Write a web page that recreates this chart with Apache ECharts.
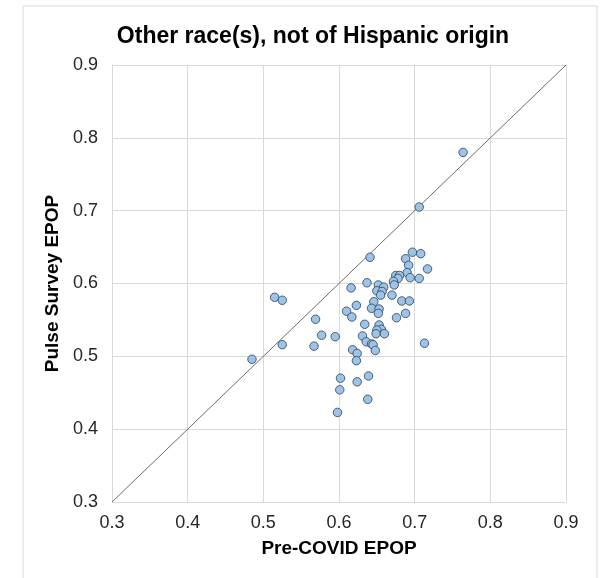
<!DOCTYPE html>
<html>
<head>
<meta charset="utf-8">
<script src="https://cdn.jsdelivr.net/npm/echarts@6/dist/echarts.min.js"></script>
<style>html,body{margin:0;padding:0;background:#fff;}#c{width:603px;height:578px;}</style>
</head>
<body>
<div id="c"></div>
<script>
const titleText = 'Other race(s), not of Hispanic origin';
const xAxisName = 'Pre-COVID EPOP';
const yAxisName = 'Pulse Survey EPOP';
const axisMin = 0.3, axisMax = 0.9, axisStep = 0.1;
const diagLine = [0.3, 0.9];
const preCovid = [0.764,0.706,0.641,0.697,0.708,0.688,0.692,0.717,0.690,0.675,0.680,0.678,0.694,0.706,0.672,0.673,0.637,0.616,0.652,0.659,0.650,0.657,0.655,0.670,0.515,0.525,0.646,0.683,0.693,0.623,0.643,0.653,0.610,0.652,0.688,0.617,0.676,0.569,0.634,0.653,0.656,0.650,0.649,0.660,0.577,0.595,0.631,0.636,0.643,0.645,0.713,0.525,0.567,0.618,0.648,0.624,0.623,0.485,0.602,0.639,0.624,0.601,0.638,0.598];
const pulse = [0.780,0.705,0.636,0.643,0.641,0.634,0.625,0.620,0.615,0.611,0.611,0.607,0.608,0.607,0.603,0.598,0.601,0.594,0.598,0.595,0.590,0.589,0.584,0.584,0.581,0.577,0.575,0.576,0.576,0.570,0.566,0.565,0.562,0.559,0.559,0.554,0.553,0.551,0.544,0.543,0.537,0.536,0.531,0.531,0.529,0.527,0.528,0.520,0.517,0.516,0.518,0.516,0.514,0.509,0.508,0.504,0.494,0.496,0.470,0.473,0.465,0.454,0.441,0.423];

const pts = preCovid.map((x, i) => [x, pulse[i]]);
const fontFam = '"Liberation Sans", Arial, sans-serif';
const chart = echarts.init(document.getElementById('c'), null, {renderer: 'canvas'});
const axisCommon = {
  type: 'value', min: axisMin, max: axisMax, interval: axisStep,
  axisLine: {show: true, lineStyle: {color: '#d9d9d9', width: 1}},
  axisTick: {show: false},
  splitLine: {show: true, lineStyle: {color: '#d9d9d9', width: 1}},
  nameLocation: 'middle',
  nameTextStyle: {fontFamily: fontFam, fontWeight: 'bold', fontSize: 19, color: '#000'},
};
chart.setOption({
  animation: false,
  backgroundColor: '#fff',
  title: {
    text: titleText, left: 308, textAlign: 'center', top: 20,
    textStyle: {fontFamily: fontFam, fontWeight: 'bold', fontSize: 23, color: '#000'}
  },
  graphic: [{
    type: 'rect', shape: {x: 23, y: 6, width: 574, height: 600},
    style: {fill: 'none', stroke: '#d9d9d9', lineWidth: 1}, silent: true
  }],
  grid: {left: 112, right: 37, top: 65, bottom: 76, containLabel: false},
  xAxis: Object.assign({}, axisCommon, {
    name: xAxisName, nameGap: 37,
    axisLabel: {fontFamily: fontFam, fontSize: 18, color: '#262626', margin: 12, formatter: v => v.toFixed(1)}
  }),
  yAxis: Object.assign({}, axisCommon, {
    name: yAxisName, nameGap: 50,
    axisLabel: {fontFamily: fontFam, fontSize: 18, color: '#262626', margin: 14, formatter: v => v.toFixed(1)}
  }),
  series: [
    {
      type: 'line', data: [[diagLine[0], diagLine[0]], [diagLine[1], diagLine[1]]],
      showSymbol: false, symbol: 'none', lineStyle: {color: '#6b6b6b', width: 1}, silent: true, z: 1
    },
    {
      type: 'scatter', data: pts, symbol: 'circle', symbolSize: 8.5,
      itemStyle: {color: '#9dc3e6', borderColor: '#2a3f55', borderWidth: 0.8, opacity: 1}, z: 2
    }
  ]
});
</script>
</body>
</html>
